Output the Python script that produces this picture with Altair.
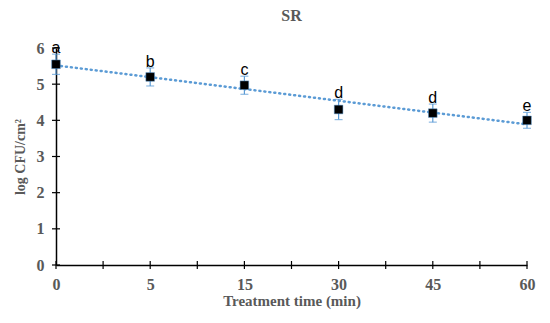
import altair as alt
import pandas as pd

times = ["0", "5", "15", "30", "45", "60"]
means = [5.55, 5.20, 4.97, 4.30, 4.20, 4.00]
errs = [0.28, 0.25, 0.25, 0.28, 0.25, 0.22]
letters = ["a", "b", "c", "d", "d", "e"]
y_ticks = [0, 1, 2, 3, 4, 5, 6]
x_ticks = [0, 0.5, 1, 1.5, 2, 2.5, 3, 3.5, 4, 4.5, 5]

df = pd.DataFrame({
    "idx": list(range(len(times))),
    "time": times,
    "mean": means,
    "lo": [m - e for m, e in zip(means, errs)],
    "hi": [m + e for m, e in zip(means, errs)],
    "letter": letters,
})

label_expr = "[" + ",".join(f"'{t}'" for t in times) + "][datum.value]"

W, H = 471, 217
xs = alt.Scale(domain=[0, 5], nice=False)
ys = alt.Scale(domain=[0, 6], nice=False)
xa = alt.Axis(values=list(range(6)), labelExpr=label_expr, ticks=False, labelFlush=False,
              domainColor="black", domainWidth=1.5, grid=False,
              labelFont="Liberation Serif", labelFontWeight="bold",
              labelFontSize=16, labelColor="#595959", labelPadding=11,
              title="Treatment time (min)", titleFont="Liberation Serif",
              titleFontSize=15, titleFontWeight="bold", titleColor="#595959",
              titlePadding=1)
ya = alt.Axis(values=y_ticks, ticks=False, domainColor="black", domainWidth=1.5,
              grid=False, labelFont="Liberation Serif", labelFontWeight="bold",
              labelFontSize=16, labelColor="#595959", labelPadding=12,
              title="log CFU/cm²", titleFont="Liberation Serif",
              titleFontSize=14, titleFontWeight="bold", titleColor="#595959",
              titlePadding=9)


def X(f):
    return alt.X(f, scale=xs, axis=xa, title="Treatment time (min)")


def Y(f):
    return alt.Y(f, scale=ys, axis=ya, title="log CFU/cm²")


base = alt.Chart(df)

trend = base.transform_regression("idx", "mean", extent=[0, 5]).mark_line(
    color="#5b9bd5", strokeWidth=2.5, strokeDash=[1, 4], strokeCap="round"
).encode(x=X("idx:Q"), y=Y("mean:Q"))

err = base.mark_rule(color="#5b9bd5", strokeWidth=1.2).encode(
    x=X("idx:Q"), y=Y("lo:Q"), y2="hi:Q")
cap_lo = base.mark_tick(color="#5b9bd5", size=8, thickness=1.2, orient="horizontal").encode(
    x=X("idx:Q"), y=Y("lo:Q"))
cap_hi = base.mark_tick(color="#5b9bd5", size=8, thickness=1.2, orient="horizontal").encode(
    x=X("idx:Q"), y=Y("hi:Q"))

pts = base.mark_square(size=75, color="black", opacity=1, stroke="#5b9bd5", strokeWidth=0.5).encode(
    x=X("idx:Q"), y=Y("mean:Q"))

txt = base.mark_text(font="Liberation Sans", fontSize=16, baseline="bottom", dy=2,
                     color="black").encode(x=X("idx:Q"), y=Y("hi:Q"), text="letter:N")

xt = alt.Chart(pd.DataFrame({"t": x_ticks})).mark_rule(color="black", strokeWidth=1.2).encode(
    x=X("t:Q"), y=alt.value(H - 4), y2=alt.value(H + 4))
yt = alt.Chart(pd.DataFrame({"v": y_ticks})).mark_rule(color="black", strokeWidth=1.2).encode(
    y=Y("v:Q"), x=alt.value(-4), x2=alt.value(4))

chart = alt.layer(trend, err, cap_lo, cap_hi, pts, txt, xt, yt).properties(
    width=W, height=H,
    padding={"left": 5, "top": 0, "right": 5, "bottom": 5},
    title=alt.TitleParams("SR", font="Liberation Serif", fontSize=16, fontWeight="bold",
                          color="#595959", offset=16),
).configure_view(stroke=None)

chart.save("out.html", embed_options={"renderer": "svg", "actions": False})
